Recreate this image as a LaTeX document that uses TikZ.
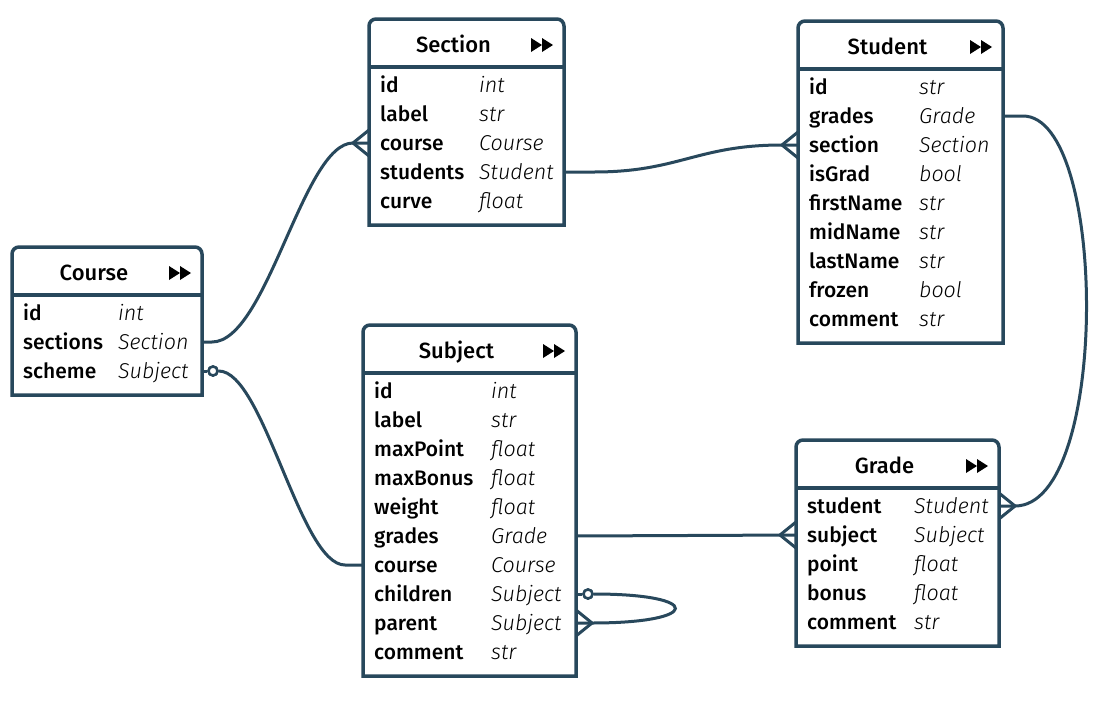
\documentclass[tikz,border=0pt]{standalone}
\usepackage{fontspec}
\setmainfont{Fira Sans}
\newfontface\namefont{Fira Sans Medium}
\newfontface\typefont{Fira Sans Light Italic}
\definecolor{erd}{RGB}{40,72,92}
\tikzset{
  boxline/.style={draw=erd,line width=3.5pt},
  conn/.style={draw=erd,line width=3pt},
  fname/.style={font=\fontsize{21}{24}\namefont,inner sep=0pt,anchor=base west},
  ftype/.style={font=\fontsize{21.5}{24}\typefont,inner sep=0pt,anchor=base west},
  titletext/.style={font=\fontsize{22}{24}\namefont,inner sep=0pt,anchor=base},
  entitybox/.style={inner sep=0pt,outer sep=0pt,fill=white},
  optcirc/.style={circle,draw=erd,line width=2.5pt,fill=white,inner sep=0pt,minimum size=9pt}
}
% #1 id, #2 title, #3 L, #4 T, #5 R, #6 B, #7 type x, #8 rows
\newcommand\entity[8]{%
  \pgfmathsetmacro\ew{#5-#3}\pgfmathsetmacro\eh{#6-#4}%
  \node[entitybox,minimum width=\ew pt,minimum height=\eh pt] (#1) at ({(#3+#5)/2},{(#4+#6)/2}) {};
  \draw[boxline] (#1.south west) -- ([yshift=-7pt]#1.north west) arc[start angle=180,end angle=90,radius=7pt]
     -- ([xshift=-7pt]#1.north east) arc[start angle=90,end angle=0,radius=7pt] -- (#1.south east) -- cycle;
  \draw[boxline] (#3,#4+48) -- (#5,#4+48);
  \node[titletext] (#1-title) at ({(#3+#5)/2-13},#4+33) {#2};
  \fill (#5-33,#4+19) -- (#5-22,#4+26) -- (#5-33,#4+33) -- cycle;
  \fill (#5-22,#4+19) -- (#5-11,#4+26) -- (#5-22,#4+33) -- cycle;
  \foreach \fn/\ft [count=\i] in {#8} {
    \pgfmathsetmacro\ry{#4+66+(\i-1)*29}
    \node[fname] (#1-\fn) at (#3+11,\ry+7) {\fn};
    \node[ftype] (#1-\fn-type) at (#7,\ry+7) {\ft};
    \coordinate (#1-\fn-L) at (#3,\ry);
    \coordinate (#1-\fn-R) at (#5,\ry);
  }
}
\newcommand\crowL[1]{\draw[conn] ([yshift=13pt]#1) -- ([xshift=-16pt]#1) -- ([yshift=-13pt]#1);}
\newcommand\crowR[1]{\draw[conn] ([yshift=13pt]#1) -- ([xshift=16pt]#1) -- ([yshift=-13pt]#1);}
\begin{document}
\begin{tikzpicture}[x=1pt,y=-1pt]
\fill[white] (0,0) rectangle (1120,710);
\useasboundingbox (0,0) rectangle (1120,710);

\entity{sec}{Section}{369}{19}{564}{225}{479}{id/int,label/str,course/Course,students/Student,curve/float}
\entity{stu}{Student}{798}{21}{1003}{343}{919}{id/str,grades/Grade,section/Section,isGrad/bool,firstName/str,midName/str,lastName/str,frozen/bool,comment/str}
\entity{crs}{Course}{12}{247}{202}{395}{118}{id/int,sections/Section,scheme/Subject}
\entity{sub}{Subject}{363}{325}{576}{676}{491}{id/int,label/str,maxPoint/float,maxBonus/float,weight/float,grades/Grade,course/Course,children/Subject,parent/Subject,comment/str}
\entity{grd}{Grade}{796}{440}{999}{646}{914}{student/Student,subject/Subject,point/float,bonus/float,comment/str}

% Course.sections -> Section.course
\draw[conn] (crs-sections-R) -- ++(10,0) .. controls +(55,0) and +(-50,0) .. ([xshift=-16pt]sec-course-L) -- (sec-course-L);
\crowL{sec-course-L}
% Section.students -> Student.section
\draw[conn] (sec-students-R) -- ++(30,0) .. controls +(85,0) and +(-85,0) .. ([xshift=-16pt]stu-section-L) -- (stu-section-L);
\crowL{stu-section-L}
% Student.grades -> Grade.student
\draw[conn] (stu-grades-R) -- ++(20,0) .. controls +(85,0) and +(95,0) .. ([xshift=16pt]grd-student-R) -- (grd-student-R);
\crowR{grd-student-R}
% Subject.grades -> Grade.subject
\draw[conn] (sub-grades-R) -- (grd-subject-L);
\crowL{grd-subject-L}
% Course.scheme -> Subject.course
\node[optcirc] (crs-opt) at ([xshift=11pt]crs-scheme-R) {};
\draw[conn] (crs-scheme-R) -- (crs-opt);
\draw[conn] (crs-opt.east) .. controls +(45,0) and +(-45,0) .. ([xshift=-18pt]sub-course-L) -- (sub-course-L);
\node[optcirc] at (crs-opt) {};
% Subject self loop
\node[optcirc] (sub-opt) at ([xshift=12pt]sub-children-R) {};
\draw[conn] (sub-children-R) -- (sub-opt);
\draw[conn] (sub-opt.east) .. controls +(110,0) and +(110,0) .. ([xshift=16pt]sub-parent-R) -- (sub-parent-R);
\node[optcirc] at (sub-opt) {};
\crowR{sub-parent-R}
\end{tikzpicture}
\end{document}
